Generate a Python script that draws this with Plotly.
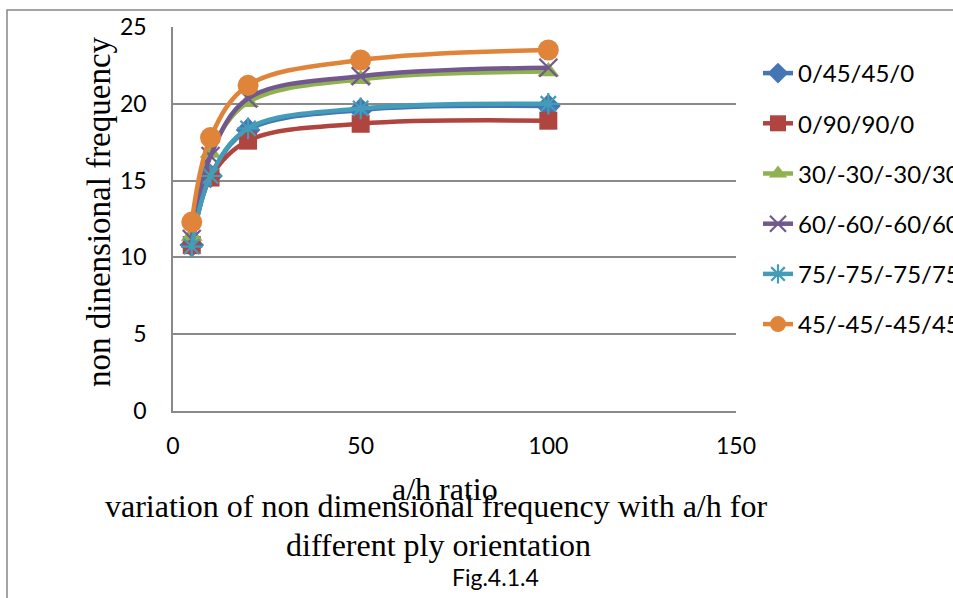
import plotly.graph_objects as go

# ---- data ----
ah_ratio = [5, 10, 20, 50, 100]
series_names = ["0/45/45/0", "0/90/90/0", "30/-30/-30/30", "60/-60/-60/60", "75/-75/-75/75", "45/-45/-45/45"]
s_0_45 = [10.8, 15.3, 18.3, 19.6, 19.85]
s_0_90 = [10.8, 15.2, 17.6, 18.7, 18.9]
s_30 = [11.4, 16.8, 20.1, 21.6, 22.1]
s_60 = [11.2, 16.6, 20.35, 21.8, 22.35]
s_75 = [10.7, 15.3, 18.4, 19.7, 20.0]
s_45 = [12.3, 17.8, 21.2, 22.85, 23.5]
series_values = [s_0_45, s_0_90, s_30, s_60, s_75, s_45]
x_ticks = [0, 50, 100, 150]
y_ticks = [0, 5, 10, 15, 20, 25]

colors = ["#4675B5", "#B0443F", "#8FB24F", "#71588F", "#439DB9", "#E0843A"]
symbols = ["diamond", "square", "triangle-up", "x-thin", "asterisk", "circle"]
sizes = [19, 18, 19, 18, 18, 21]

W, H = 953, 598
L, R, T, B = 173, 217, 27, 187
PW, PH = W - L - R, H - T - B

def px_x(p):
    return (p - L) / PW

def px_y(p):
    return (H - B - p) / PH

fig = go.Figure()
for i, (name, vals) in enumerate(zip(series_names, series_values)):
    open_sym = symbols[i] in ("x-thin", "asterisk")
    fig.add_trace(go.Scatter(
        x=ah_ratio, y=vals, name=name, mode="lines+markers",
        legendgroup="g%d" % i,
        line=dict(color=colors[i], width=4.5, shape="spline", smoothing=1),
        marker=dict(symbol=symbols[i], size=sizes[i], color=colors[i],
                    line=dict(color=colors[i], width=2.2 if open_sym else 0)),
    ))

grid = "#8A8A8A"
fig.update_layout(
    width=W, height=H,
    margin=dict(l=L, r=R, t=T, b=B, autoexpand=False),
    paper_bgcolor="white", plot_bgcolor="white",
    font=dict(family="Lato", size=23, color="black"),
    showlegend=True,
    legend=dict(x=px_x(758), y=px_y(51), xanchor="left", yanchor="top",
                traceorder="grouped", tracegroupgap=16,
                font=dict(family="Lato", size=24, color="black"),
                bgcolor="rgba(0,0,0,0)"),
    xaxis=dict(range=[0, 150], tickvals=x_ticks, showgrid=False, zeroline=False,
               showline=True, linecolor=grid, linewidth=1.5, ticks="",
               ticklabelstandoff=14, tickfont=dict(family="Lato", size=23)),
    yaxis=dict(range=[0, 25], tickvals=y_ticks, showgrid=True, gridcolor=grid, gridwidth=1.5,
               zeroline=False, showline=True, linecolor=grid, linewidth=1.5, ticks="",
               ticklabelstandoff=20, tickfont=dict(family="Lato", size=23)),
    shapes=[dict(type="rect", xref="paper", yref="paper",
                 x0=px_x(7), y0=-2, x1=3, y1=px_y(10),
                 line=dict(color="#868686", width=1.5), layer="below")],
    annotations=[
        dict(text="non dinensional frequency", xref="paper", yref="paper",
             x=px_x(99), y=px_y(212), textangle=-90, showarrow=False,
             xanchor="center", yanchor="middle",
             font=dict(family="Liberation Serif", size=33, color="black")),
        dict(text="a/h ratio", xref="paper", yref="paper",
             x=px_x(445), y=px_y(489), showarrow=False,
             xanchor="center", yanchor="middle",
             font=dict(family="Liberation Serif", size=32, color="black")),
        dict(text="variation of non dimensional frequency with a/h for", xref="paper", yref="paper",
             x=px_x(436), y=px_y(506), showarrow=False,
             xanchor="center", yanchor="middle",
             font=dict(family="Liberation Serif", size=32, color="black")),
        dict(text="different ply orientation", xref="paper", yref="paper",
             x=px_x(438), y=px_y(545), showarrow=False,
             xanchor="center", yanchor="middle",
             font=dict(family="Liberation Serif", size=32, color="black")),
        dict(text="Fig.4.1.4", xref="paper", yref="paper",
             x=px_x(495), y=px_y(577), showarrow=False,
             xanchor="center", yanchor="middle",
             font=dict(family="Lato", size=23, color="black")),
    ],
)

fig.write_html("out.html")
